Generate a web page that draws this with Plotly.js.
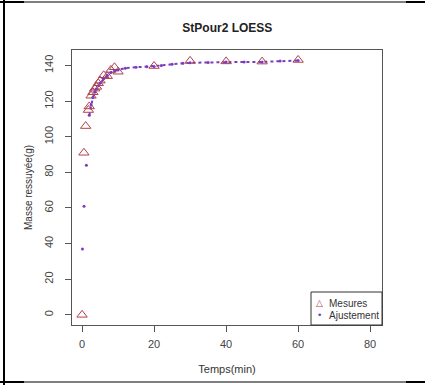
<!DOCTYPE html>
<html><head><meta charset="utf-8">
<script src="https://cdn.plot.ly/plotly-3.0.1.min.js"></script>
<style>html,body{margin:0;padding:0;background:#fff;}#chart{width:425px;height:385px;}</style>
</head><body><div id="chart"></div>
<script>
// Measured points (Mesures)
var mesTemps = [0, 0.5, 1, 1.75, 2, 2.5, 3, 3.5, 4, 4.5, 5, 6, 7, 8, 9, 10, 20, 30, 40, 50, 60];
var mesMasse = [0, 91, 106, 115, 117, 123, 125, 127, 128, 130, 131.5, 134.5, 134, 137.5, 139, 136.5, 139.7, 142.6, 142.3, 142.2, 143.1];
// LOESS fit (Ajustement)
var fitTemps = [0.1, 0.55, 1.2, 2, 2.5, 3, 3.5, 4, 5, 6, 7, 8, 9, 10, 12, 15, 18, 20, 22, 25, 28, 30, 35, 40, 45, 50, 55, 60];
var fitMasse = [37, 61, 84, 112, 118, 122, 125, 127, 130, 132.5, 134.5, 136, 137, 137.5, 138.5, 139, 139.3, 139.5, 140, 140.7, 141.2, 141.5, 141.7, 142, 142, 142, 142.5, 142.8];
var xTicks = [0, 20, 40, 60, 80];
var yTicks = [0, 20, 40, 60, 80, 100, 120, 140];
var legendNames = ['Mesures', 'Ajustement'];

var red = '#b0404a', purple = '#7a3cc0';
var denseFrom = 3; // the fit points are dense (drawn as a dotted run) from here on
var traces = [
  {x: fitTemps.slice(denseFrom), y: fitMasse.slice(denseFrom), mode: 'lines',
   line: {color: purple, width: 2, dash: 'dot'}, showlegend: false, hoverinfo: 'skip'},
  {x: mesTemps, y: mesMasse, mode: 'markers', name: legendNames[0],
   marker: {symbol: 'triangle-up-open', size: 9, color: red, line: {width: 1, color: red}}},
  {x: fitTemps, y: fitMasse, mode: 'markers', name: legendNames[1],
   marker: {symbol: 'circle', size: 3, color: purple}}
];
function px(x){return (x-72)/310;}
function py(y){return (325-y)/275;}
var blk = {color: '#000', width: 1};
var blk2 = {color: '#000', width: 2};
var shapes = [
  {type:'line', xref:'paper', yref:'paper', x0:px(0), x1:px(425), y0:py(2), y1:py(2), line: blk},
  {type:'line', xref:'paper', yref:'paper', x0:px(0), x1:px(24), y0:py(2), y1:py(2), line: blk2},
  {type:'line', xref:'paper', yref:'paper', x0:px(406), x1:px(425), y0:py(2), y1:py(2), line: blk2},
  {type:'line', xref:'paper', yref:'paper', x0:px(0), x1:px(425), y0:py(382), y1:py(382), line: blk},
  {type:'line', xref:'paper', yref:'paper', x0:px(0), x1:px(24), y0:py(382), y1:py(382), line: blk2},
  {type:'line', xref:'paper', yref:'paper', x0:px(406), x1:px(425), y0:py(382), y1:py(382), line: blk2},
  {type:'line', xref:'paper', yref:'paper', x0:px(4), x1:px(4), y0:py(0), y1:py(385), line: blk2},
  // legend box
  {type:'rect', xref:'paper', yref:'paper', x0:px(311), x1:px(382), y0:py(325), y1:py(292),
   line: {color: '#333', width: 1}, fillcolor: '#fff', layer: 'above'}
];
var annotations = [
  {xref:'paper', yref:'paper', x:px(319), y:py(303), text:'△', showarrow:false, xanchor:'center', yanchor:'middle',
   font:{family:'DejaVu Sans', size:9, color:red}},
  {xref:'paper', yref:'paper', x:px(319), y:py(315), text:'•', showarrow:false, xanchor:'center', yanchor:'middle',
   font:{family:'DejaVu Sans', size:9, color:purple}},
  {xref:'paper', yref:'paper', x:px(327), y:py(303), text:legendNames[0], showarrow:false, xanchor:'left', yanchor:'middle',
   font:{size:10, color:'#333'}},
  {xref:'paper', yref:'paper', x:px(327), y:py(315), text:legendNames[1], showarrow:false, xanchor:'left', yanchor:'middle',
   font:{size:10, color:'#333'}}
];
var layout = {
  width: 425, height: 385,
  margin: {l: 72, r: 43, t: 50, b: 60},
  paper_bgcolor: '#fff', plot_bgcolor: '#fff',
  showlegend: false,
  font: {family: 'Liberation Sans, Arial, sans-serif', size: 11, color: '#333'},
  title: {text: '<b>StPour2 LOESS</b>', x: 0.535, xanchor: 'center', y: 1 - 28/385, yanchor: 'middle',
          font: {size: 12, color: '#222'}},
  xaxis: {range: [-2.8, 83.3], tickvals: xTicks, ticktext: xTicks.map(String), showgrid: false, zeroline: false,
          showline: true, mirror: true, linecolor: '#555', linewidth: 1, ticks: 'outside', ticklen: 6, tickcolor: '#555',
          ticklabelstandoff: 3, tickfont: {size: 11, color: '#444'},
          title: {text: 'Temps(min)', font: {size: 11, color: '#333'}, standoff: 16}},
  yaxis: {range: [-5.7, 148.7], tickvals: yTicks, ticktext: yTicks.map(String), showgrid: false, zeroline: false,
          showline: true, mirror: true, linecolor: '#555', linewidth: 1, ticks: 'outside', ticklen: 6, tickcolor: '#555',
          tickangle: -90, ticklabelstandoff: 8, tickfont: {size: 11, color: '#444'},
          title: {text: 'Masse ressuyée(g)', font: {size: 10, color: '#333'}, standoff: 8}},
  shapes: shapes,
  annotations: annotations
};
Plotly.newPlot('chart', traces, layout, {displayModeBar: false, staticPlot: true});
</script></body></html>
